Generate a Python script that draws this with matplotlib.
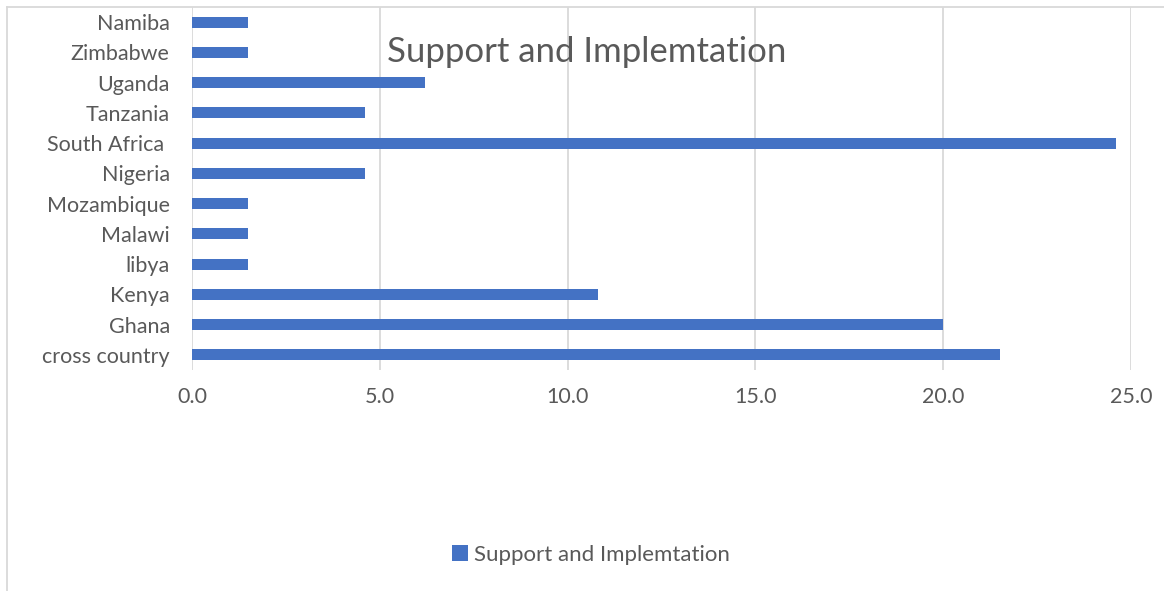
import matplotlib
matplotlib.use("Agg")
import matplotlib.pyplot as plt
from matplotlib.lines import Line2D

# categories listed bottom to top
countries = [
    "cross country", "Ghana", "Kenya", "libya", "Malawi", "Mozambique",
    "Nigeria", "South Africa ", "Tanzania", "Uganda", "Zimbabwe", "Namiba",
]
share = [21.5, 20.0, 10.8, 1.5, 1.5, 1.5, 4.6, 24.6, 4.6, 6.2, 1.5, 1.5]
ticks = [0.0, 5.0, 10.0, 15.0, 20.0, 25.0]
series_name = "Support and Implemtation"

bar_color = "#4472C4"
text_color = "#595959"
grid_color = "#D9D9D9"

plt.rcParams["font.family"] = ["Lato", "DejaVu Sans"]

W, H = 1164, 591
fig = plt.figure(figsize=(W / 100, H / 100), dpi=100)
ax = fig.add_axes([192 / W, 1 - 370 / H, (1131 - 192) / W, 363 / H])

ypos = range(len(countries))
ax.barh(ypos, share, height=0.36, color=bar_color, label=series_name, zorder=3)

ax.set_xlim(0, 25)
ax.set_ylim(-0.5, len(countries) - 0.5)
ax.set_xticks(ticks)
ax.set_xticklabels([f"{t:.1f}" for t in ticks])
ax.set_yticks(list(ypos))
ax.set_yticklabels(countries)
ax.tick_params(axis="x", length=0, labelsize=15.5, colors=text_color, pad=12)
ax.tick_params(axis="y", length=0, labelsize=15.5, colors=text_color, pad=16)
ax.xaxis.grid(True, color=grid_color, linewidth=1.3, zorder=0)
for s in ax.spines.values():
    s.set_visible(False)

# title sits inside the plot area, over the gridlines
fig.text(387 / W, 1 - 62 / H, series_name, ha="left", va="baseline",
         fontsize=25, color=text_color)

leg = fig.legend(loc="center", bbox_to_anchor=(591 / W, 1 - 555 / H), frameon=False,
                 fontsize=16, handlelength=0.7, handleheight=0.7, handletextpad=0.3)
for t in leg.get_texts():
    t.set_color(text_color)

# chart border (only top and left edges fall inside the image)
x0, y0 = 6.5 / W, 1 - 6.5 / H
fig.lines.append(Line2D([x0, 1], [y0, y0], transform=fig.transFigure,
                        color=grid_color, linewidth=1.3))
fig.lines.append(Line2D([x0, x0], [0, y0], transform=fig.transFigure,
                        color=grid_color, linewidth=1.3))

fig.savefig("out.png", dpi=100, facecolor="white")
